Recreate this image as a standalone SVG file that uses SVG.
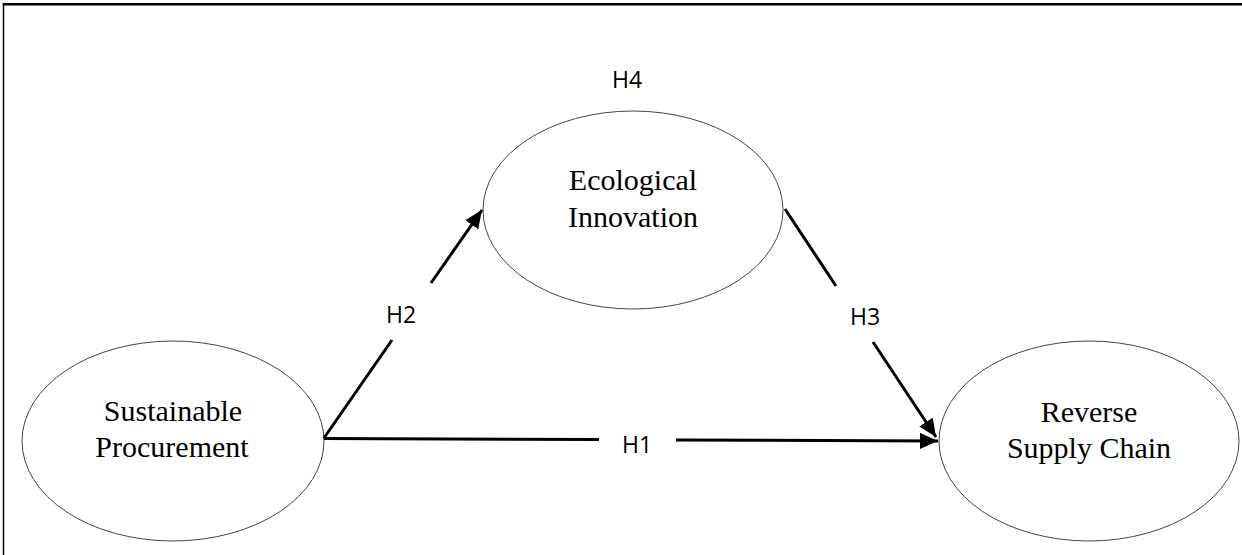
<svg xmlns="http://www.w3.org/2000/svg" width="1242" height="555" viewBox="0 0 1242 555">
<style>
.node ellipse{fill:#fff;stroke:#444;stroke-width:1}
.node text{font-family:"Liberation Serif","Times New Roman",serif;font-size:30px;fill:#000;text-anchor:middle}
.lbl{font-family:"Open Sans","Liberation Sans",sans-serif;font-size:23px;fill:#000;text-anchor:middle}
.conn{fill:none;stroke:#000;stroke-width:3}
</style>
<defs>
<marker id="arr" markerUnits="userSpaceOnUse" markerWidth="19" markerHeight="17" refX="18" refY="8" orient="auto">
<path d="M0,0 L18,8 L0,16 z" fill="#000"/>
</marker>
</defs>
<rect width="1242" height="555" fill="#fff"/>
<g id="frame">
<line x1="3.5" y1="3" x2="3.5" y2="555" stroke="#000" stroke-width="1.5"/>
<line x1="2.75" y1="4.3" x2="1242" y2="4.3" stroke="#000" stroke-width="2.6"/>
</g>
<g id="node-sp" class="node">
<ellipse cx="173" cy="441" rx="151" ry="100"/>
<text x="173" y="421">Sustainable</text>
<text x="172" y="457">Procurement</text>
</g>
<g id="node-ei" class="node">
<ellipse cx="633" cy="210" rx="150" ry="99"/>
<text x="633" y="190">Ecological</text>
<text x="633" y="227">Innovation</text>
</g>
<g id="node-rsc" class="node">
<ellipse cx="1089" cy="441" rx="150" ry="100"/>
<text x="1089" y="422">Reverse</text>
<text x="1089" y="458">Supply Chain</text>
</g>
<g id="connectors">
<path class="conn" d="M324 438 L392 340 M431 283 L482 210" marker-end="url(#arr)"/>
<path class="conn" d="M785 209 L836 286 M873 342 L936 437" marker-end="url(#arr)"/>
<path class="conn" d="M324 438.5 L599 439.5 M676 440 L938 441" marker-end="url(#arr)"/>
<text class="lbl" x="401" y="323">H2</text>
<text class="lbl" x="865" y="325">H3</text>
<text class="lbl" x="637" y="453">H1</text>
<text class="lbl" x="627" y="88">H4</text>
</g>
</svg>
